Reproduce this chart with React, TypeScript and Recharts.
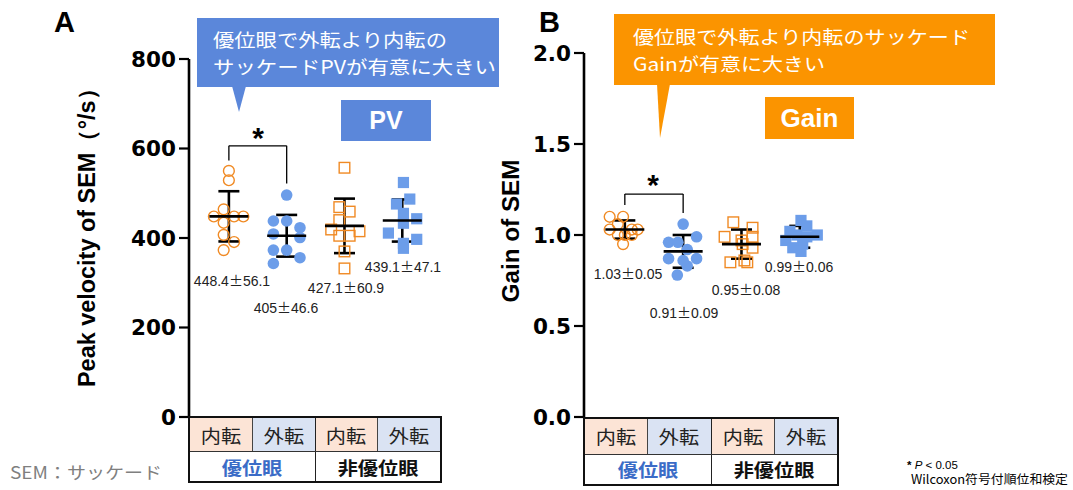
import React from 'react';
import { ScatterChart, Scatter, XAxis, YAxis, ErrorBar, ReferenceLine } from 'recharts';

// ---------- data ----------
const directionLabels = ['内転', '外転', '内転', '外転'];
const eyeLabels = ['優位眼', '非優位眼'];

const pvTicks = [0, 200, 400, 600, 800];
const gainTicks = [0, 0.5, 1.0, 1.5, 2.0];

// Peak velocity (°/s)
const pvDomAdd = [550, 529, 464, 448, 448, 448, 434, 407, 391, 373];
const pvDomAddX = [0, 0, -0.09, -0.26, 0.09, 0.25, -0.09, -0.09, 0.09, -0.09];
const pvDomAbd = [496, 438, 438, 423, 409, 401, 373, 373, 356, 343];
const pvDomAbdX = [0, -0.23, 0, 0.23, -0.23, 0.23, -0.23, 0, 0.23, -0.23];
const pvNonAdd = [557, 469, 459, 440, 419, 415, 405, 405, 370, 332];
const pvNonAddX = [0, -0.09, 0.09, -0.09, -0.23, 0.26, -0.09, 0.09, 0, 0];
const pvNonAbd = [524, 487, 476, 455, 443, 433, 411, 397, 388, 377];
const pvNonAbdX = [0.02, 0.13, -0.1, 0.02, 0.25, 0.02, -0.24, 0.25, 0.02, 0.02];

const pvMeans = [448.4, 405, 427.1, 439.1];
const pvSD = [56.1, 46.6, 60.9, 47.1];

// Gain
const gainDomAdd = [1.1, 1.1, 1.06, 1.03, 1.03, 1.03, 1.0, 1.0, 0.95, 1.0];
const gainDomAddX = [-0.26, -0.03, -0.12, -0.26, 0.12, 0.22, -0.12, 0.12, -0.03, 0];
const gainDomAbd = [1.06, 0.96, 0.96, 0.99, 0.92, 0.87, 0.87, 0.83, 0.78, 0.86];
const gainDomAbdX = [0, -0.25, -0.09, 0.23, 0.07, -0.25, 0.23, 0.07, -0.1, 0];
const gainNonAdd = [1.07, 1.04, 0.99, 0.99, 0.95, 0.85, 0.85, 0.97, 0.93, 0.86];
const gainNonAddX = [-0.14, 0.19, -0.29, 0.19, 0.02, -0.19, 0.1, 0, 0.19, 0.05];
const gainNonAbd = [1.08, 1.05, 1.02, 1.0, 1.0, 0.99, 0.97, 0.95, 0.93, 0.91];
const gainNonAbdX = [0.02, 0.12, -0.17, 0.3, -0.05, 0.12, -0.24, 0.05, -0.12, 0.02];

const gainMeans = [1.03, 0.91, 0.95, 0.99];
const gainSD = [0.05, 0.09, 0.08, 0.06];

// significance brackets [leftBottom, top, rightBottom]
const pvBracket = [573, 606, 522];
const gainBracket = [1.165, 1.225, 1.121];

// ---------- styles ----------
const ORANGE = '#f08a24';
const BLUE = '#6c9de9';
const CJK = '"Noto Sans CJK JP", sans-serif';
const SANS = '"Liberation Sans", Arial, sans-serif';

const toPoints = (vals: number[], jit: number[], g: number) =>
  vals.map((v, i) => ({ x: g + jit[i], y: v }));

const OpenCircle = (p: any) => (
  <circle cx={p.cx} cy={p.cy} r={5.4} fill="none" stroke={ORANGE} strokeWidth={1.4} />
);
const FilledCircle = (p: any) => <circle cx={p.cx} cy={p.cy} r={5.8} fill={BLUE} />;
const OpenSquare = (p: any) => (
  <rect x={p.cx - 5.3} y={p.cy - 5.3} width={10.6} height={10.6} fill="none" stroke={ORANGE} strokeWidth={1.4} />
);
const FilledSquare = (p: any) => (
  <rect x={p.cx - 5.6} y={p.cy - 5.6} width={11.2} height={11.2} fill={BLUE} />
);
const MeanLine = (p: any) => (
  <line x1={p.cx - 19.5} x2={p.cx + 19.5} y1={p.cy} y2={p.cy} stroke="#000" strokeWidth={2.6} />
);

type PanelProps = {
  left: number;
  width: number;
  height: number;
  yAxisWidth: number;
  margin: { top: number; right: number; bottom: number; left: number };
  xDomain: [number, number];
  yDomain: [number, number];
  ticks: number[];
  fmt: (v: number) => string;
  groups: number[][];
  jitters: number[][];
  means: number[];
  sds: number[];
  bracket: number[];
};

function Panel(props: PanelProps) {
  const { groups, jitters, means, sds, bracket } = props;
  const meanData = means.map((m, i) => ({ x: i + 1, y: m, sd: sds[i] }));
  const shapes = [OpenCircle, FilledCircle, OpenSquare, FilledSquare];
  return (
    <div style={{ position: 'absolute', left: props.left, top: 0 }}>
      <ScatterChart width={props.width} height={props.height} margin={props.margin}>
        <XAxis type="number" dataKey="x" domain={props.xDomain} hide allowDataOverflow />
        <YAxis
          type="number"
          dataKey="y"
          domain={props.yDomain}
          ticks={props.ticks}
          tickFormatter={props.fmt}
          width={props.yAxisWidth}
          interval={0}
          axisLine={{ stroke: '#000', strokeWidth: 2.6 }}
          tickLine={{ stroke: '#000', strokeWidth: 2.2 }}
          tickSize={10}
          tickMargin={3}
          tick={{ fill: '#000', fontSize: 21.5, fontWeight: 'bold', fontFamily: '"DejaVu Sans", sans-serif' }}
        />
        {groups.map((vals, g) => (
          <Scatter
            key={g}
            data={toPoints(vals, jitters[g], g + 1)}
            shape={shapes[g]}
            isAnimationActive={false}
          />
        ))}
        <ReferenceLine segment={[{ x: 1, y: bracket[0] }, { x: 1, y: bracket[1] }]} stroke="#000" strokeWidth={1.3} />
        <ReferenceLine segment={[{ x: 1, y: bracket[1] }, { x: 2, y: bracket[1] }]} stroke="#000" strokeWidth={1.3} />
        <ReferenceLine segment={[{ x: 2, y: bracket[2] }, { x: 2, y: bracket[1] }]} stroke="#000" strokeWidth={1.3} />
        <Scatter data={meanData} shape={MeanLine} isAnimationActive={false}>
          <ErrorBar dataKey="sd" direction="y" width={10.5} stroke="#000" strokeWidth={2.6} isAnimationActive={false} />
        </Scatter>
      </ScatterChart>
    </div>
  );
}

function CategoryTable({ left, top, width, height }: { left: number; top: number; width: number; height: number }) {
  return (
    <div
      style={{
        position: 'absolute',
        left,
        top,
        width,
        height,
        border: '2.6px solid #111',
        boxSizing: 'border-box',
        display: 'flex',
        flexDirection: 'column',
        background: '#fff',
      }}
    >
      <div style={{ display: 'flex', flex: 34, borderBottom: '1px solid #333' }}>
        {directionLabels.map((d, i) => (
          <div
            key={i}
            style={{
              flex: 1,
              background: i % 2 === 0 ? '#fce4d6' : '#dae3f3',
              borderLeft: i > 0 ? (i === 2 ? '1.5px solid #222' : '1px solid #444') : 'none',
              display: 'flex',
              alignItems: 'center',
              justifyContent: 'center',
              fontSize: 18,
              fontFamily: CJK,
              color: '#222',
            }}
          >
            <span style={{ display: 'inline-block', transform: 'scaleX(1.12)' }}>{d}</span>
          </div>
        ))}
      </div>
      <div style={{ display: 'flex', flex: 29 }}>
        {eyeLabels.map((e, i) => (
          <div
            key={i}
            style={{
              flex: 1,
              borderLeft: i > 0 ? '1.5px solid #222' : 'none',
              display: 'flex',
              alignItems: 'center',
              justifyContent: 'center',
              fontSize: 18,
              fontWeight: 'bold',
              fontFamily: CJK,
              color: i === 0 ? '#3b6cc7' : '#111',
            }}
          >
            <span style={{ display: 'inline-block', transform: 'scaleX(1.12)' }}>{e}</span>
          </div>
        ))}
      </div>
    </div>
  );
}

const pvLabelPos = [
  [232, 281],
  [286, 308],
  [346, 288],
  [403, 267],
];
const gainLabelPos = [
  [628, 274],
  [684, 313],
  [746, 290],
  [799, 267],
];

const StatLabel = ({ x, y, m, s }: { x: number; y: number; m: string; s: string }) => (
  <text x={x} y={y + 5} textAnchor="middle" fontSize={14} fontFamily={SANS} fill="#222">
    {m}
    <tspan fontFamily={CJK}>±</tspan>
    {s}
  </text>
);

export default function App() {
  return (
    <div style={{ position: 'absolute', left: 0, top: 0, width: 1073, height: 490, background: '#fff', overflow: 'hidden' }}>
      <Panel
        left={0}
        width={460}
        height={430}
        yAxisWidth={189}
        margin={{ top: 59, right: 19, bottom: 13, left: 0 }}
        xDomain={[0.31, 4.67]}
        yDomain={[0, 800]}
        ticks={pvTicks}
        fmt={(v) => String(v)}
        groups={[pvDomAdd, pvDomAbd, pvNonAdd, pvNonAbd]}
        jitters={[pvDomAddX, pvDomAbdX, pvNonAddX, pvNonAbdX]}
        means={pvMeans}
        sds={pvSD}
        bracket={pvBracket}
      />
      <Panel
        left={460}
        width={400}
        height={430}
        yAxisWidth={124}
        margin={{ top: 53, right: 22, bottom: 13, left: 0 }}
        xDomain={[0.3, 4.655]}
        yDomain={[0, 2]}
        ticks={gainTicks}
        fmt={(v) => v.toFixed(1)}
        groups={[gainDomAdd, gainDomAbd, gainNonAdd, gainNonAbd]}
        jitters={[gainDomAddX, gainDomAbdX, gainNonAddX, gainNonAbdX]}
        means={gainMeans}
        sds={gainSD}
        bracket={gainBracket}
      />
      <CategoryTable left={188} top={416} width={254} height={67} />
      <CategoryTable left={583} top={417} width={256} height={69} />

      <svg width={1073} height={490} style={{ position: 'absolute', left: 0, top: 0, pointerEvents: 'none' }}>
        {/* panel letters */}
        <text x={54} y={32} fontSize={29} fontWeight="bold" fontFamily={SANS} fill="#000">A</text>
        <text x={539} y={32} fontSize={29} fontWeight="bold" fontFamily={SANS} fill="#000">B</text>

        {/* axis titles */}
        <text
          transform="translate(95,232) rotate(-90)"
          textAnchor="middle"
          fontSize={23}
          fontWeight="bold"
          fontFamily={SANS}
          fill="#000"
          textLength={310}
          lengthAdjust="spacingAndGlyphs"
        >
          Peak velocity of SEM（°/s）
        </text>
        <text
          transform="translate(519,231) rotate(-90)"
          textAnchor="middle"
          fontSize={23}
          fontWeight="bold"
          fontFamily={SANS}
          fill="#000"
          textLength={143}
          lengthAdjust="spacingAndGlyphs"
        >
          Gain of SEM
        </text>

        {/* callout A */}
        <rect x={197} y={18} width={302} height={69} fill="#5b87da" />
        <polygon points="232,86 246,86 239,112" fill="#5b87da" />
        <text x={213} y={47} fontSize={18.5} fontFamily={CJK} fill="#fff" textLength={234} lengthAdjust="spacingAndGlyphs">優位眼で外転より内転の</text>
        <text x={213} y={74} fontSize={18.5} fontFamily={CJK} fill="#fff" textLength={283} lengthAdjust="spacingAndGlyphs">サッケードPVが有意に大きい</text>
        <rect x={341} y={100} width={90} height={41} fill="#5b87da" />
        <text x={386} y={129} textAnchor="middle" fontSize={25} fontWeight="bold" fontFamily={SANS} fill="#fff">PV</text>

        {/* callout B */}
        <rect x={614} y={14} width={381} height={71} fill="#fb9400" />
        <polygon points="657,84 670,84 660,138" fill="#fb9400" />
        <text x={633} y={44} fontSize={18.5} fontFamily={CJK} fill="#fff" textLength={337} lengthAdjust="spacingAndGlyphs">優位眼で外転より内転のサッケード</text>
        <text x={633} y={71} fontSize={18.5} fontFamily={CJK} fill="#fff" textLength={192} lengthAdjust="spacingAndGlyphs">Gainが有意に大きい</text>
        <rect x={765} y={97} width={89} height={42} fill="#fb9400" />
        <text x={809.5} y={127} textAnchor="middle" fontSize={26} fontWeight="bold" fontFamily={SANS} fill="#fff">Gain</text>

        {/* asterisks */}
        <text x={258} y={148} textAnchor="middle" fontSize={30} fontWeight="bold" fontFamily={SANS} fill="#000">*</text>
        <text x={653} y={195} textAnchor="middle" fontSize={30} fontWeight="bold" fontFamily={SANS} fill="#000">*</text>

        {/* mean ± SD labels */}
        {pvLabelPos.map((p, i) => (
          <StatLabel key={'pv' + i} x={p[0]} y={p[1]} m={String(pvMeans[i])} s={String(pvSD[i])} />
        ))}
        {gainLabelPos.map((p, i) => (
          <StatLabel key={'g' + i} x={p[0]} y={p[1]} m={gainMeans[i].toFixed(2)} s={gainSD[i].toFixed(2)} />
        ))}

        {/* footnotes */}
        <text x={10} y={479} fontSize={17} fontFamily={CJK} fill="#7f7f7f" textLength={152} lengthAdjust="spacingAndGlyphs">SEM：サッケード</text>
        <text x={907} y={469} fontSize={11.5} fontFamily={SANS} fill="#000">
          <tspan fontWeight="bold">*</tspan>
          <tspan fontStyle="italic"> P</tspan>
          <tspan> &lt; 0.05</tspan>
        </text>
        <text x={911} y={484} fontSize={12.5} fontFamily={CJK} fill="#000" textLength={157} lengthAdjust="spacingAndGlyphs">Wilcoxon符号付順位和検定</text>
      </svg>
    </div>
  );
}
